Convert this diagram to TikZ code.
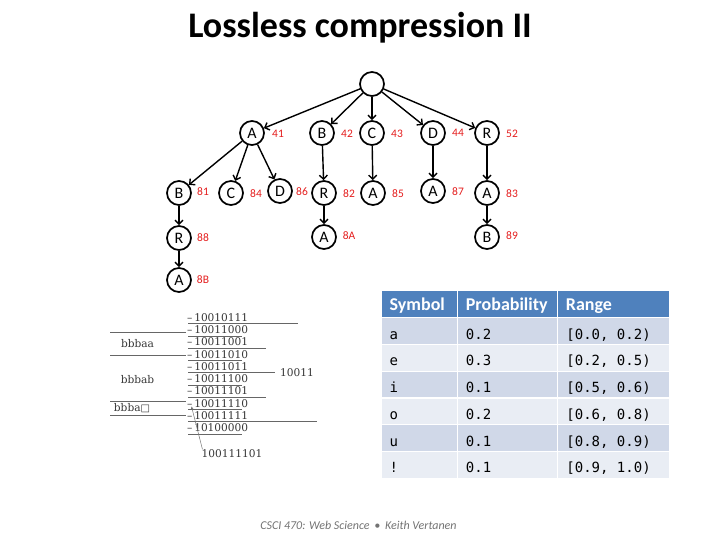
\documentclass[tikz,border=0pt]{standalone}
\usepackage{fontspec}
\setmainfont{Carlito}
\newfontfamily\monof{DejaVu Sans Mono}
\newfontfamily\serf{DejaVu Serif}
\newfontfamily\dvs{DejaVu Sans}
\usetikzlibrary{arrows.meta}
\definecolor{labred}{RGB}{228,30,30}
\definecolor{hdrblue}{HTML}{4F81BD}
\definecolor{rowdark}{HTML}{D0D8E8}
\definecolor{rowlight}{HTML}{E9EDF4}
\definecolor{numgray}{RGB}{55,55,55}
\tikzset{
  tn/.style={circle, draw, line width=1.7pt, minimum size=24pt, inner sep=0pt, font=\fontsize{16}{16}\selectfont},
  lab/.style={text=labred, inner sep=0pt, font=\fontsize{11.5}{12}\selectfont},
  tedge/.style={-{Straight Barb[length=4pt,width=8pt]}, line width=1.4pt},
  numtxt/.style={anchor=west, inner sep=0pt, text=numgray, font=\serf\fontsize{10.6}{11}\selectfont},
  rule/.style={draw=black!60, line width=0.8pt},
  hdr/.style={anchor=west, inner sep=0pt, text=white, font=\bfseries\fontsize{18}{18}\selectfont},
  cell/.style={anchor=west, inner sep=0pt, font=\monof\fontsize{14}{14}\selectfont}
}
\begin{document}
\begin{tikzpicture}[x=1pt,y=-1pt]
\useasboundingbox (0,0) rectangle (720,540);
\node (title) at (360,28) {\bfseries\fontsize{36}{36}\selectfont Lossless compression II};

% tree
\node[tn] (root) at (372,84) {};
\node[tn] (A1) at (252,133) {A}; \node[lab] (l41) at (278,134) {41};
\node[tn] (B1) at (322,133) {B}; \node[lab] (l42) at (347,134) {42};
\node[tn] (C1) at (372,133) {C}; \node[lab] (l43) at (397,134) {43};
\node[tn] (D1) at (433,133) {D}; \node[lab] (l44) at (458,133) {44};
\node[tn] (R1) at (487,133) {R}; \node[lab] (l52) at (512,134) {52};

\node[tn] (B2) at (179,193) {B}; \node[lab] (l81) at (203,192) {81};
\node[tn] (C2) at (231,193) {C}; \node[lab] (l84) at (256,194) {84};
\node[tn] (D2) at (280,191) {D}; \node[lab] (l86) at (302,192) {86};
\node[tn] (R2) at (324,193) {R}; \node[lab] (l82) at (349,194) {82};
\node[tn] (A2) at (373,193) {A}; \node[lab] (l85) at (398,194) {85};
\node[tn] (A3) at (433,191) {A}; \node[lab] (l87) at (458,192) {87};
\node[tn] (A4) at (487,193) {A}; \node[lab] (l83) at (512,194) {83};

\node[tn] (R3) at (179,238) {R}; \node[lab] (l88) at (203,238) {88};
\node[tn] (A5) at (324,237) {A}; \node[lab] (l8A) at (349,236) {8A};
\node[tn] (B3) at (487,237) {B}; \node[lab] (l89) at (512,236) {89};
\node[tn] (A6) at (179,280) {A}; \node[lab] (l8B) at (203,280) {8B};

\foreach \t in {A1,B1,C1,D1,R1} \draw[tedge] (root) -- (\t);
\foreach \t in {B2,C2,D2} \draw[tedge] (A1) -- (\t);
\draw[tedge] (B1) -- (R2);
\draw[tedge] (C1) -- (A2);
\draw[tedge] (D1) -- (A3);
\draw[tedge] (R1) -- (A4);
\draw[tedge] (B2) -- (R3);
\draw[tedge] (R3) -- (A6);
\draw[tedge] (R2) -- (A5);
\draw[tedge] (A4) -- (B3);

% interval diagram
\foreach \s/\y/\e [count=\i] in {10010111/317.5/298, 10011000/329.75/242, 10011001/342/266, 10011010/354.25/242, 10011011/366.5/275, 10011100/378.75/242, 10011101/391/266, 10011110/403.25/242, 10011111/415.5/317, 10100000/427.75/242} {
  \node[numtxt] (n\i) at (187,\y) {–\,\s};
  \draw[rule] (188,\y+6.2) -- (\e,\y+6.2);
}
\foreach \y in {332.7,355,401.7,415} \draw[rule] (110,\y) -- (186,\y);
\node[numtxt, anchor=center] (bbbaa) at (137.5,344) {bbbaa};
\node[numtxt, anchor=center] (bbbab) at (137.5,380) {bbbab};
\node[numtxt, anchor=center] (bbbaq) at (132,408.3) {bbba{\dvs\fontsize{10}{11}\selectfont □}};
\node[numtxt] (k10011) at (280,372.5) {10011};
\node[numtxt, anchor=center] (k9) at (232,453.5) {100111101};
\coordinate (tip) at (191.5,406.5);
\draw[draw=black!55, line width=0.5pt, -{Stealth[length=3pt,width=2.5pt]}] ([xshift=1pt]k9.north west) -- (tip);

% table
\fill[hdrblue] (381.7,291) rectangle (669,317.7);
\foreach \r/\c in {0/rowdark,1/rowlight,2/rowdark,3/rowlight,4/rowdark,5/rowlight}
  \fill[\c] (381.7,317.7+26.75*\r) rectangle (669,344.45+26.75*\r);
\foreach \r in {0,...,5} \draw[white, line width=1.2pt] (381.7,317.7+26.75*\r) -- (669,317.7+26.75*\r);
\draw[white, line width=1.5pt] (457.7,291) -- (457.7,478.2);
\draw[white, line width=1.5pt] (557.7,291) -- (557.7,478.2);
\node[hdr] (h1) at (389.5,306) {Symbol};
\node[hdr] (h2) at (465.7,306) {Probability};
\node[hdr] (h3) at (565.7,306) {Range};
\foreach \s/\p/\rg [count=\i from 0] in {a/0.2/{[0.0, 0.2)}, e/0.3/{[0.2, 0.5)}, i/0.1/{[0.5, 0.6)}, o/0.2/{[0.6, 0.8)}, u/0.1/{[0.8, 0.9)}, !/0.1/{[0.9, 1.0)}} {
  \node[cell, anchor=base west] (s\i) at (389.5,339+26.75*\i) {\s};
  \node[cell, anchor=base west] (p\i) at (465.7,339+26.75*\i) {\p};
  \node[cell, anchor=base west] (r\i) at (566.2,339+26.75*\i) {\rg};
}

\node[text=black!55, font=\itshape\fontsize{12}{12}\selectfont] (foot) at (358.5,525) {CSCI 470: Web Science \,•\, Keith Vertanen};
\end{tikzpicture}
\end{document}
